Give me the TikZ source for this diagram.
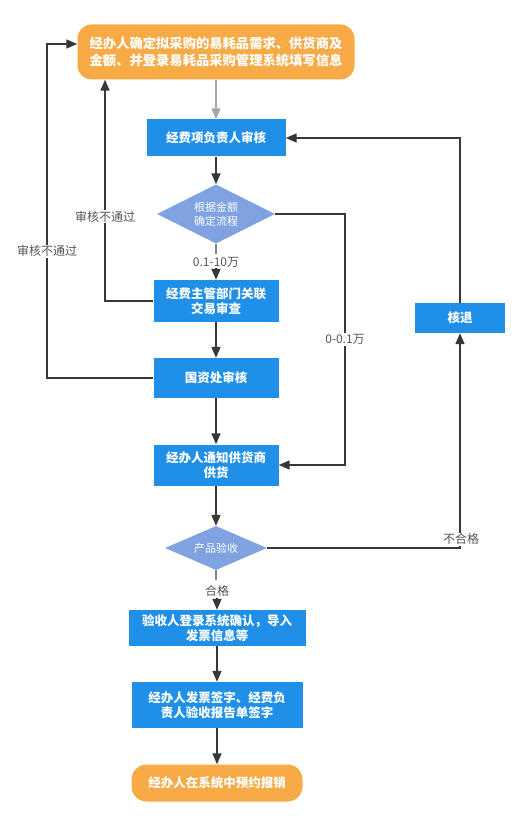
\documentclass[tikz,border=0pt]{standalone}
\usepackage{fontspec}
\setmainfont{Noto Sans CJK SC}
\usetikzlibrary{shapes.geometric,arrows.meta,positioning}
\definecolor{boxblue}{RGB}{31,143,232}
\definecolor{diablue}{RGB}{126,163,224}
\definecolor{termorange}{RGB}{247,170,70}
\definecolor{linegray}{RGB}{55,55,55}
\definecolor{labelgray}{RGB}{85,85,85}
\begin{document}
\begin{tikzpicture}[x=1pt,y=-1pt,
  txt/.style={text=white,font=\fontsize{12.5}{15.5}\selectfont\bfseries,align=center,inner sep=0pt},
  term/.style={txt,fill=termorange,rounded corners=14pt},
  proc/.style={txt,fill=boxblue},
  deci/.style={txt,fill=diablue,diamond,aspect=2,font=\fontsize{11}{14}\selectfont},
  conn/.style={draw=linegray,line width=1.6pt,-{Triangle[length=11pt,width=9pt]}},
  lbl/.style={text=labelgray,font=\fontsize{12}{14}\selectfont,fill=white,inner sep=1pt}
]
\useasboundingbox (0,0) rectangle (530,826);
\fill[white] (0,0) rectangle (530,826);

\node[term,minimum width=277pt,minimum height=55pt,font=\fontsize{13.3}{17}\selectfont\bfseries] (t1) at (216,52)
  {经办人确定拟采购的易耗品需求、供货商及\\金额、并登录易耗品采购管理系统填写信息};
\node[proc,minimum width=139pt,minimum height=37pt] (b2) at (216,138) {经费项负责人审核};
\node[deci,minimum width=118pt,minimum height=59pt,inner sep=0pt] (d1) at (216,214) {根据金额\\确定流程};
\node[proc,minimum width=125pt,minimum height=42pt] (b3) at (216,301) {经费主管部门关联\\交易审查};
\node[proc,minimum width=125pt,minimum height=40pt] (b4) at (216,378) {国资处审核};
\node[proc,minimum width=125pt,minimum height=41pt] (b5) at (216,465) {经办人通知供货商\\供货};
\node[deci,minimum width=102pt,minimum height=44pt,inner sep=0pt] (d2) at (216,548) {产品验收};
\node[proc,minimum width=177pt,minimum height=36pt] (b6) at (217,628) {验收人登录系统确认，导入\\发票信息等};
\node[proc,minimum width=171pt,minimum height=46pt] (b7) at (217,705) {经办人发票签字、经费负\\责人验收报告单签字};
\node[term,minimum width=171pt,minimum height=37pt,rounded corners=15pt] (t2) at (217,783) {经办人在系统中预约报销};
\node[proc,minimum width=90pt,minimum height=30pt] (hb) at (460,318) {核退};

\coordinate (cR1) at (460,138);
\coordinate (cD2) at (460,548);
\coordinate (cA) at (345,214);
\coordinate (cB) at (345,465);
\coordinate (cL1) at (105,301);
\coordinate (cL2) at (47,378);
\coordinate (cL3) at (47,44);

\draw[conn,draw=gray!70] (t1) -- (b2);
\draw[conn] (b2) -- (d1);
\draw[draw=linegray!60,line width=1.6pt] (d1.south) -- ++(0,10);
\node[lbl] (l1) at (216,262) {0.1-10万};
\draw[conn] (l1) -- (b3);
\draw[conn] (b3) -- (b4);
\draw[conn] (b4) -- (b5);
\draw[conn] (b5) -- (d2);
\draw[draw=linegray!60,line width=1.6pt] (d2.south) -- ++(0,10);
\node[lbl] (l2) at (217,591) {合格};
\draw[conn] (l2) -- (b6);
\draw[conn] (b6) -- (b7);
\draw[conn] (b7) -- (t2);

\draw[conn] (d1.east) -- (cA) -- node[lbl,pos=0.5]{0-0.1万} (cB) -- (b5.east);
\draw[conn] (d2.east) -- (cD2) -- (hb.south);
\node[lbl,anchor=south] at (461,546) {不合格};
\draw[conn] (hb.north) -- (cR1) -- (b2.east);
\draw[conn] (b3.west) -- (cL1) -- node[lbl,pos=0.38]{审核不通过} (cL1 |- t1.south);
\draw[conn] (b4.west) -- (cL2) -- node[lbl,pos=0.38]{审核不通过} (cL3) -- (cL3 -| t1.west);
\end{tikzpicture}
\end{document}
